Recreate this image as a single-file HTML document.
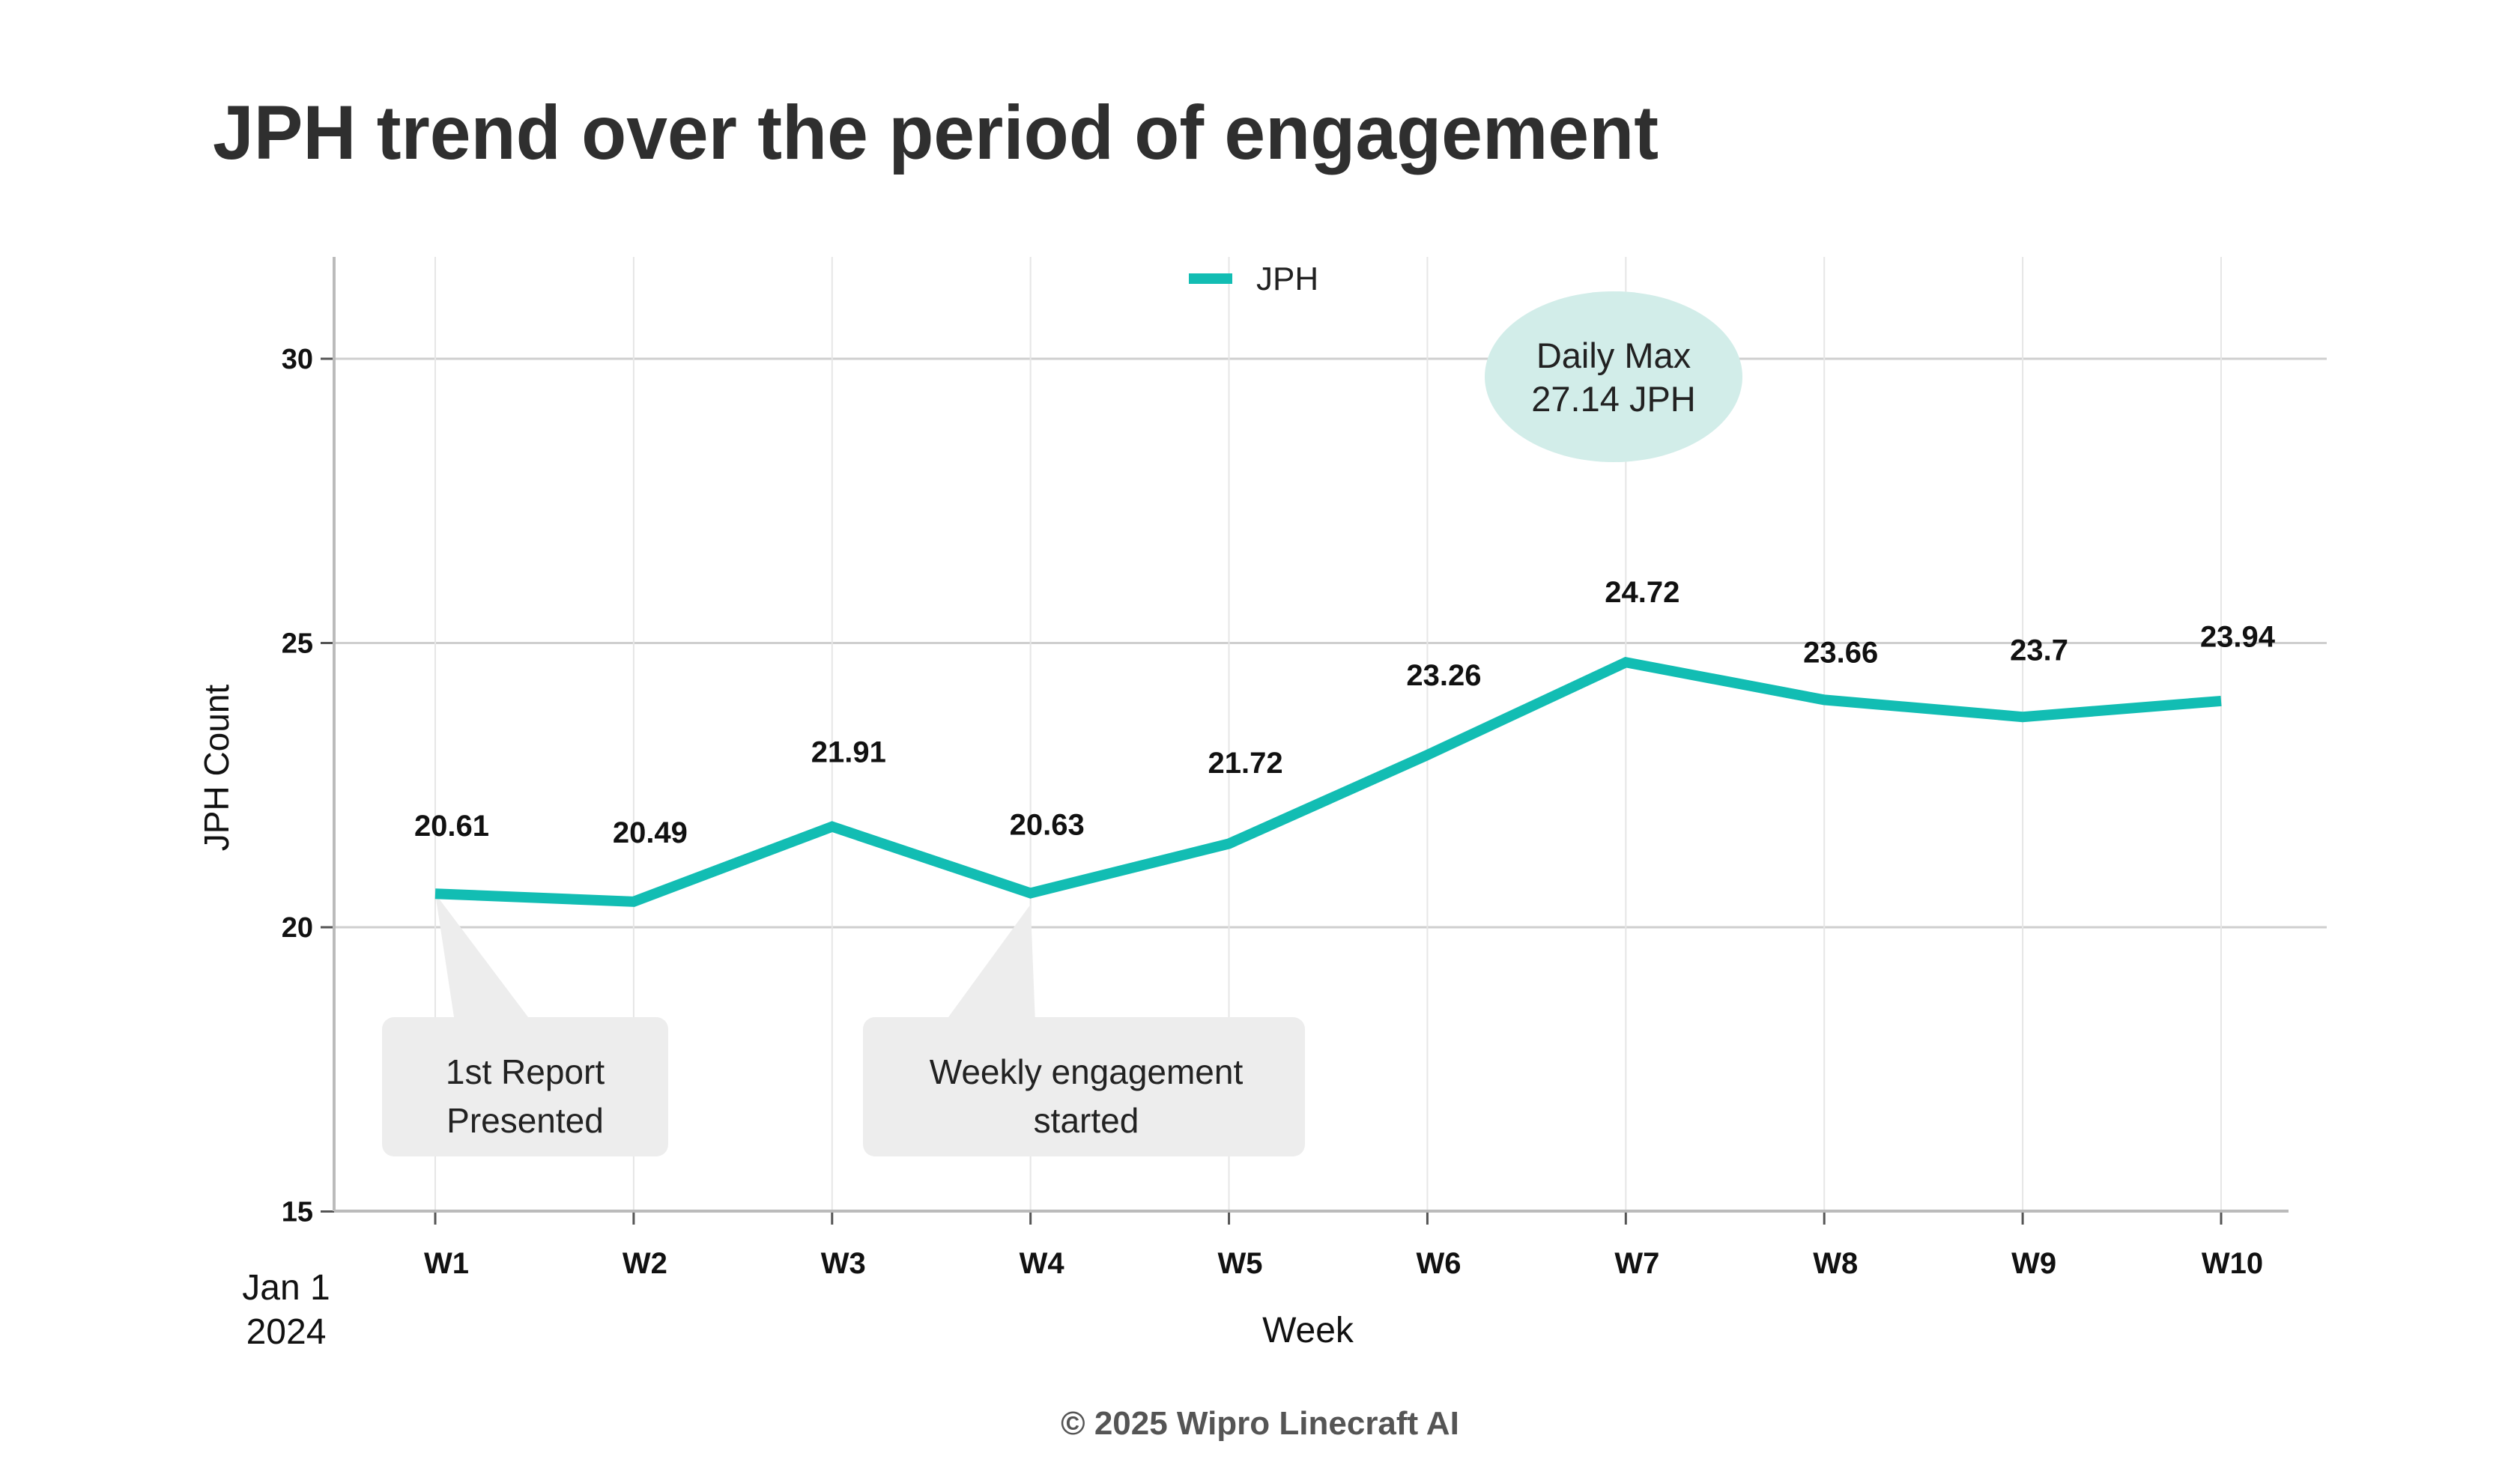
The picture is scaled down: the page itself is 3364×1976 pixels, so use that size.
<!DOCTYPE html>
<html><head><meta charset="utf-8"><style>
html,body{margin:0;padding:0;background:#fff;}
svg{display:block;font-family:"Liberation Sans",sans-serif;}
</style></head><body>
<svg id="chart" width="3364" height="1976" viewBox="0 0 3364 1976" xmlns="http://www.w3.org/2000/svg">
<text x="284" y="212" font-size="102" font-weight="bold" fill="#2f2f2f" textLength="1930" lengthAdjust="spacingAndGlyphs">JPH trend over the period of engagement</text>
<g id="grid"></g>
<g id="annot"></g>
<g id="marks"></g>
<g id="axes"></g>
<g>
<line x1="1587" y1="372" x2="1645" y2="372" stroke="#12bdb3" stroke-width="14"/>
<text x="1677" y="387" font-size="44" fill="#222">JPH</text>
</g>
<text transform="translate(305,1025) rotate(-90)" text-anchor="middle" font-size="46" fill="#111">JPH Count</text>
<text x="1746" y="1792" text-anchor="middle" font-size="48" fill="#111">Week</text>
<text x="382" y="1735" text-anchor="middle" font-size="48" fill="#111">Jan 1</text>
<text x="382" y="1794" text-anchor="middle" font-size="48" fill="#111">2024</text>
<text x="1682" y="1915" text-anchor="middle" font-size="44" font-weight="bold" fill="#555">© 2025 Wipro Linecraft AI</text>
</svg>
<script>
const weeks = ["W1","W2","W3","W4","W5","W6","W7","W8","W9","W10"];
const jphValues = [20.59,20.45,21.77,20.6,21.47,23.03,24.66,24.0,23.7,23.98];
const labelValues = [20.61,20.49,21.91,20.63,21.72,23.26,24.72,23.66,23.7,23.94];
const yTicks = [15,20,25,30];
const NS="http://www.w3.org/2000/svg";
const X0=446,X1=3055,YT=343,YB=1617;
const xs=i=>581+i*(2965-581)/(weeks.length-1);
const ys=v=>1238-(v-20)*75.9;
function mk(parent,tag,attrs,text){const e=document.createElementNS(NS,tag);for(const k in attrs)e.setAttribute(k,attrs[k]);if(text!==undefined)e.textContent=text;document.getElementById(parent).appendChild(e);return e;}
yTicks.forEach(t=>{
  if(t>15){const g=mk('grid','line',{x1:X0,x2:3106,y1:ys(t),y2:ys(t),stroke:'#cfcfcf','stroke-width':3});
  
  }
  const tk=mk('axes','line',{x1:X0-18,x2:X0,y1:ys(t),y2:ys(t),stroke:'#555','stroke-width':3});
  
  
  const lb=mk('axes','text',{x:418,y:ys(t)+13,'text-anchor':'end','font-size':38,'font-weight':'bold',fill:'#111'},String(t));
  
  
});
weeks.forEach((w,i)=>{
  const g=mk('grid','line',{x1:xs(i),x2:xs(i),y1:YT,y2:YB,stroke:'#e6e6e6','stroke-width':2});
  
  
  const tk=mk('axes','line',{x1:xs(i),x2:xs(i),y1:YB,y2:YB+18,stroke:'#555','stroke-width':3});
  
  
  const lb=mk('axes','text',{x:xs(i)+15,y:1700,'text-anchor':'middle','font-size':40,'font-weight':'bold',fill:'#111'},w);
  
  
});
const ya=mk('axes','line',{x1:X0,x2:X0,y1:YT,y2:YB,stroke:'#bbb','stroke-width':4});


const xa=mk('axes','line',{x1:X0,x2:X1,y1:YB,y2:YB,stroke:'#bbb','stroke-width':4});


// annotations
const c1=mk('annot','path',{d:`M${xs(0)},${ys(jphValues[0])} L${xs(0)+705-581},1358 L${xs(0)+125},1358 L606,1358 Z`,fill:'#ededed'});


const b1=mk('annot','rect',{x:510,y:1358,width:382,height:186,rx:16,fill:'#ededed'});


const c2=mk('annot','path',{d:`M${xs(3)},${ys(jphValues[3])+15} L1266,1358 L${xs(3)+6},1358 Z`,fill:'#ededed'});


const b2=mk('annot','rect',{x:1152,y:1358,width:590,height:186,rx:16,fill:'#ededed'});


[["1st Report",701,1447],["Presented",701,1512],["Weekly engagement",1450,1447],["started",1450,1512]].forEach(a=>{
  const t=mk('annot','text',{x:a[1],y:a[2],'text-anchor':'middle','font-size':46,fill:'#222'},a[0]);
  
  
});
const el=mk('annot','ellipse',{cx:2154,cy:503,rx:172,ry:114,fill:'#d2ede9'});


[["Daily Max",491],["27.14 JPH",549]].forEach(a=>{
  const t=mk('annot','text',{x:2154,y:a[1],'text-anchor':'middle','font-size':47,fill:'#222'},a[0]);
  
  
});
// series
const pts=jphValues.map((v,i)=>xs(i)+','+ys(v)).join(' ');
const pl=mk('marks','polyline',{points:pts,fill:'none',stroke:'#12bdb3','stroke-width':14,'stroke-linejoin':'miter'});


labelValues.forEach((v,i)=>{
  const t=mk('marks','text',{x:xs(i)+22,y:ys(v+1.18)+14,'text-anchor':'middle','font-size':40,'font-weight':'bold',fill:'#111'},String(v));
  
  
});
</script>
</body></html>
